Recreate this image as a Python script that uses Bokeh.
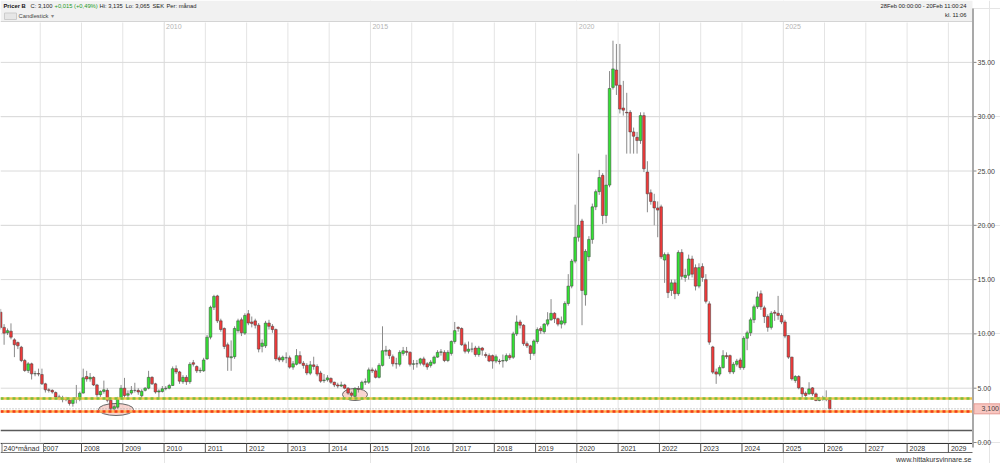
import pandas as pd
from bokeh.plotting import figure
from bokeh.models import Range1d, ColumnDataSource
from bokeh.embed import file_html
from bokeh.resources import INLINE
from bokeh.core.properties import value

# ---------------- data (monthly OHLC, Jan 2006 - Feb 2026, SEK) ----------------
first_month = "2006-01"
opens = [
    12.0, 10.6, 10.1, 10.25, 9.45, 9.2, 8.78, 7.55, 6.63, 7.24, 6.32, 6.35,      # 2006
    6.26, 5.4, 4.85, 4.8, 4.6, 4.2, 4.1, 3.95, 3.9, 3.6, 4.0, 4.0,               # 2007
    4.55, 6.08, 5.85, 6.0, 5.3, 4.4, 4.7, 4.8, 3.9, 3.1, 3.25, 4.1,              # 2008
    5.0, 4.35, 4.55, 4.8, 4.8, 4.3, 4.8, 5.0, 6.0, 5.4, 4.65, 4.7,               # 2009
    4.95, 5.0, 5.25, 6.8, 6.5, 5.6, 6.0, 5.6, 7.35, 7.0, 6.6, 6.6,               # 2010
    7.7, 9.7, 12.45, 13.5, 11.2, 10.5, 9.0, 7.8, 7.9, 10.3, 11.3, 10.07,         # 2011
    11.85, 11.1, 11.2, 10.8, 8.85, 8.9, 11.0, 10.7, 10.4, 7.8, 7.6, 7.8,         # 2012
    7.8, 6.94, 7.2, 8.0, 7.3, 7.1, 6.38, 7.15, 7.0, 6.4, 5.7, 5.77,              # 2013
    5.9, 5.55, 5.3, 5.2, 5.3, 5.0, 4.55, 4.25, 4.95, 4.94, 5.55, 5.55,           # 2014
    6.69, 6.6, 6.0, 7.1, 8.4, 8.48, 7.9, 7.25, 7.2, 8.2, 8.4, 8.3,               # 2015
    7.2, 7.25, 7.3, 7.7, 7.25, 7.1, 7.3, 7.86, 8.3, 8.3, 7.55, 8.2,              # 2016
    9.3, 10.6, 10.5, 9.0, 8.4, 8.6, 8.7, 8.1, 8.7, 8.1, 8.0, 8.0,                # 2017
    7.5, 7.5, 7.5, 7.55, 8.0, 7.85, 10.0, 11.1, 10.8, 9.1, 8.9, 8.2,             # 2018
    9.3, 10.5, 10.2, 10.9, 11.3, 11.9, 11.4, 10.9, 11.0, 12.8, 14.4, 16.7,       # 2019
    18.9, 20.4, 13.6, 17.1, 18.7, 21.7, 23.1, 24.6, 20.9, 23.7, 32.7, 34.3,      # 2020
    32.9, 30.8, 30.4, 30.4, 28.6, 28.1, 27.8, 30.1, 24.9, 23.0, 22.2, 21.6,      # 2021
    21.7, 16.8, 17.3, 14.0, 14.7, 13.7, 17.5, 15.2, 15.4, 16.9, 16.1, 14.4,      # 2022
    16.2, 15.0, 12.77, 8.8, 6.5, 6.3, 6.9, 8.0, 8.0, 6.5, 7.2, 7.6,              # 2023
    6.9, 9.6, 10.1, 11.3, 12.5, 13.7, 12.4, 11.6, 10.6, 12.0, 11.9, 11.7,        # 2024
    11.1, 9.85, 7.86, 5.71, 6.08, 5.03, 4.54, 4.48, 5.03, 4.48, 3.87, 4.1,       # 2025
    4.05, 3.95,                                                                  # 2026
]
highs = [
    12.3, 10.9, 10.5, 10.97, 9.6, 9.3, 8.9, 7.7, 7.4, 7.35, 6.6, 6.8,
    6.8, 5.5, 5.0, 4.9, 4.7, 4.4, 4.3, 4.2, 4.0, 4.1, 5.3, 4.7,
    6.8, 6.6, 6.4, 6.1, 5.4, 4.8, 5.7, 5.0, 4.0, 3.5, 4.2, 5.3,
    5.95, 4.8, 5.2, 5.5, 5.0, 4.9, 5.1, 6.6, 6.1, 5.5, 4.9, 5.2,
    5.2, 5.4, 7.0, 7.1, 6.6, 6.2, 6.2, 7.4, 7.6, 7.1, 6.9, 7.8,
    9.9, 12.6, 13.6, 13.6, 11.4, 10.6, 9.2, 9.4, 10.7, 11.4, 11.5, 11.9,
    12.2, 11.6, 11.4, 11.0, 9.5, 11.2, 11.3, 10.9, 10.5, 8.0, 8.0, 8.3,
    8.0, 7.5, 8.6, 8.4, 7.5, 7.3, 7.5, 7.9, 7.2, 6.6, 6.3, 6.2,
    6.0, 5.6, 5.5, 5.6, 5.4, 5.1, 4.7, 5.1, 5.2, 5.7, 5.9, 6.9,
    6.9, 6.8, 7.3, 10.7, 8.9, 8.6, 8.1, 7.8, 8.5, 8.8, 8.8, 8.4,
    7.6, 7.6, 7.8, 7.9, 7.4, 7.6, 8.0, 8.5, 8.6, 8.5, 8.5, 9.4,
    11.1, 10.7, 10.6, 9.2, 9.3, 9.2, 8.9, 8.9, 8.8, 8.3, 8.2, 8.1,
    8.1, 7.7, 8.1, 8.2, 8.2, 10.2, 11.7, 11.3, 10.9, 9.3, 9.0, 9.5,
    10.6, 10.7, 11.0, 12.0, 13.2, 12.0, 11.5, 11.6, 13.0, 15.5, 16.9, 21.9,
    26.6, 20.6, 17.8, 19.0, 22.0, 23.3, 25.1, 24.8, 26.5, 34.2, 37.0, 36.7,
    36.7, 33.3, 32.2, 30.6, 29.0, 28.6, 30.4, 30.4, 25.9, 23.3, 22.9, 22.2,
    21.9, 17.5, 17.5, 15.0, 15.0, 17.7, 17.8, 16.0, 17.3, 17.2, 16.4, 16.5,
    16.5, 15.5, 13.0, 8.9, 6.8, 7.1, 8.5, 8.3, 8.1, 7.4, 7.7, 7.8,
    9.8, 10.3, 11.5, 12.7, 13.9, 14.0, 12.6, 11.8, 12.1, 12.2, 13.5, 11.9,
    11.3, 9.9, 7.9, 6.2, 6.2, 5.1, 4.7, 5.55, 5.1, 4.6, 4.2, 4.3,
    4.8, 4.0,
]
lows = [
    10.4, 9.0, 9.9, 9.5, 7.86, 8.6, 7.4, 6.5, 6.4, 5.8, 6.1, 6.1,
    5.3, 4.6, 4.6, 4.5, 4.1, 3.9, 3.7, 3.8, 3.4, 3.3, 3.6, 3.8,
    4.5, 5.6, 5.6, 5.2, 4.2, 4.2, 4.5, 3.7, 2.9, 2.9, 3.1, 4.0,
    4.1, 4.2, 4.4, 4.6, 4.4, 4.0, 4.7, 4.9, 5.3, 4.5, 4.0, 4.6,
    4.8, 4.9, 5.2, 6.3, 5.4, 5.4, 5.3, 5.4, 7.0, 6.4, 6.4, 6.5,
    7.6, 9.5, 12.2, 11.0, 10.2, 8.6, 6.6, 6.6, 7.7, 10.1, 9.8, 9.9,
    10.8, 10.6, 10.5, 8.3, 8.3, 8.7, 10.4, 10.1, 7.5, 7.4, 7.4, 7.3,
    6.8, 6.7, 7.1, 7.2, 6.8, 6.2, 6.2, 6.7, 6.1, 5.5, 5.5, 5.6,
    5.4, 5.1, 5.0, 5.1, 4.9, 4.4, 4.1, 4.0, 4.6, 4.8, 5.3, 5.4,
    6.4, 5.9, 5.9, 7.0, 8.0, 7.7, 7.0, 6.8, 7.0, 8.0, 8.0, 7.0,
    6.7, 6.9, 7.1, 7.0, 6.7, 6.9, 7.2, 7.8, 8.0, 7.4, 7.4, 8.0,
    9.1, 10.2, 8.9, 8.2, 8.2, 8.3, 7.9, 7.9, 8.0, 7.8, 7.4, 6.8,
    7.3, 7.2, 6.9, 7.4, 7.6, 7.7, 9.8, 10.5, 8.9, 8.7, 7.6, 8.0,
    9.1, 10.0, 10.0, 10.7, 11.2, 11.0, 10.7, 10.5, 10.8, 12.6, 14.2, 16.5,
    18.5, 10.8, 12.6, 16.7, 18.3, 21.4, 22.8, 20.1, 20.2, 23.5, 32.5, 32.0,
    30.3, 30.1, 26.6, 26.6, 26.6, 26.6, 27.5, 24.9, 21.2, 21.9, 20.0, 18.9,
    16.9, 14.7, 13.3, 13.5, 13.2, 13.5, 15.0, 14.8, 15.0, 15.2, 14.0, 14.2,
    14.8, 12.8, 9.0, 6.3, 5.4, 6.1, 6.8, 7.7, 6.3, 6.3, 7.0, 6.7,
    6.7, 8.5, 9.8, 11.0, 12.3, 12.2, 11.0, 10.2, 10.4, 11.2, 11.3, 10.9,
    9.6, 7.7, 5.7, 5.5, 4.9, 4.1, 4.2, 4.4, 4.3, 3.8, 3.8, 3.85,
    3.8, 3.05,
]
closes = [
    10.6, 10.07, 10.3, 9.7, 9.0, 8.9, 7.55, 6.63, 7.24, 6.32, 6.35, 6.3,
    5.4, 4.85, 4.8, 4.65, 4.2, 4.15, 3.95, 4.05, 3.6, 4.0, 4.1, 4.54,
    5.96, 5.85, 6.0, 5.3, 4.4, 4.7, 4.85, 3.9, 3.1, 3.3, 4.0, 5.0,
    4.33, 4.5, 4.8, 4.8, 4.65, 4.72, 5.0, 6.0, 5.4, 4.65, 4.75, 4.95,
    5.0, 5.25, 6.8, 6.5, 5.65, 6.0, 5.6, 7.2, 7.2, 6.6, 6.65, 7.6,
    9.7, 12.45, 13.45, 11.2, 10.4, 8.84, 7.86, 7.9, 10.5, 11.2, 10.1, 11.7,
    11.0, 10.95, 10.8, 8.6, 9.15, 11.0, 10.7, 10.4, 7.7, 7.6, 7.85, 7.8,
    6.94, 7.25, 8.0, 7.3, 7.1, 6.4, 7.15, 7.0, 6.3, 5.65, 5.75, 5.95,
    5.55, 5.3, 5.2, 5.3, 5.0, 4.55, 4.35, 4.95, 4.9, 5.55, 5.6, 6.69,
    6.6, 6.0, 7.1, 8.45, 8.5, 8.0, 7.25, 7.25, 8.3, 8.45, 8.3, 7.2,
    7.25, 7.25, 7.7, 7.2, 6.95, 7.4, 7.86, 8.3, 8.35, 7.55, 8.3, 9.3,
    10.3, 10.5, 9.0, 8.4, 8.6, 8.6, 8.1, 8.7, 8.5, 8.0, 7.5, 7.5,
    7.9, 7.45, 7.55, 8.0, 7.8, 10.0, 11.1, 10.8, 9.1, 8.9, 8.2, 9.35,
    10.4, 10.3, 10.9, 11.3, 11.9, 11.4, 10.9, 11.2, 12.8, 14.4, 16.7, 18.9,
    20.0, 14.0, 17.6, 18.7, 21.7, 23.1, 24.4, 20.9, 23.7, 32.6, 34.4, 32.9,
    30.7, 30.6, 30.35, 28.6, 28.2, 27.8, 30.1, 25.2, 22.9, 22.2, 21.6, 21.4,
    17.1, 17.3, 13.8, 14.7, 13.7, 17.5, 15.3, 15.4, 16.9, 15.5, 14.4, 16.1,
    15.2, 13.0, 9.24, 6.48, 6.3, 6.9, 8.0, 7.9, 6.5, 7.2, 7.5, 6.9,
    9.6, 10.1, 11.3, 12.5, 13.4, 12.5, 11.6, 10.6, 11.9, 11.9, 11.7, 11.1,
    9.8, 7.86, 5.86, 6.08, 5.03, 4.48, 4.33, 4.94, 4.48, 3.87, 4.1, 4.0,
    3.95, 3.10,
]
price_axis_ticks = [0, 5, 10, 15, 20, 25, 30, 35]
axis_years = list(range(2007, 2030))
top_years = [2010, 2015, 2020, 2025]
support_level = 4.05
lower_level = 2.85
last_price = 3.10
base_line_level = 1.1

# ---------------- geometry helpers (pixel -> data) ----------------
FW, FH = 1000, 463
PPY = 41.28          # pixels per year
PPV = 10.86          # pixels per SEK
X0 = 2008 - 81 / PPY
X1 = X0 + FW / PPY
Y1 = 442 / PPV
Y0 = Y1 - FH / PPV
XR = X0 + 972 / PPY  # right edge of the price pane


def px(x):
    return X0 + x / PPY


def py(y):
    return Y1 - y / PPV


FONT = value("Liberation Sans")

months = pd.period_range(first_month, periods=len(closes), freq="M")
t = [m.year + (m.month - 0.5) / 12 for m in months]
up = [c >= o for o, c in zip(opens, closes)]
src = ColumnDataSource(dict(
    t=t, o=opens, h=highs, l=lows, c=closes,
    top=[max(o, c) for o, c in zip(opens, closes)],
    bot=[min(o, c) for o, c in zip(opens, closes)],
    fill=["#34e234" if u else "#f03a3a" for u in up],
))

p = figure(frame_width=FW, frame_height=FH, x_range=Range1d(X0, X1), y_range=Range1d(Y0, Y1),
           x_axis_location=None, y_axis_location=None, output_backend="svg", toolbar_location=None,
           min_border_left=0, min_border_top=0, min_border_bottom=0, min_border_right=0)
p.outline_line_color = None
p.background_fill_color = "white"
p.border_fill_color = "white"

# header strip
p.quad(left=[X0], right=[XR], top=[py(0)], bottom=[py(21)], fill_color="#f1f1f1", line_color=None)
p.segment(x0=[X0], x1=[XR], y0=[py(21)], y1=[py(21)], line_color="#d4d4d4", line_width=1)

# grid
p.segment(x0=axis_years, x1=axis_years, y0=[py(22)] * len(axis_years), y1=[0] * len(axis_years),
          line_color="#e4e4e4", line_width=1)
hl = price_axis_ticks[1:]
p.segment(x0=[X0] * len(hl), x1=[XR] * len(hl), y0=hl, y1=hl, line_color="#dadada", line_width=1)
p.text(x=[y + 2 / PPY for y in top_years], y=[py(26)] * len(top_years), text=[str(y) for y in top_years],
       text_font=FONT, text_font_size="7px", text_color="#b4b4b4", text_baseline="middle")

# dark horizontal line
p.segment(x0=[X0], x1=[XR], y0=[base_line_level], y1=[base_line_level], line_color="#5a5a5a", line_width=1.5)

# ellipses marking the lows
p.ellipse(x=[2008.836, 2014.625], y=[3.04, 4.42], width=[0.848, 0.606], height=[1.105, 1.105],
          fill_color="#f4b9b0", fill_alpha=0.6, line_color="#666666", line_width=1)

# candles
p.segment(x0="t", x1="t", y0="l", y1="h", source=src, line_color="#8a8a8a", line_width=1)
p.vbar(x="t", top="top", bottom="bot", width=0.064, source=src, fill_color="fill",
       line_color="#3c3c3c", line_width=0.5)

# levels
p.segment(x0=[X0], x1=[XR], y0=[last_price], y1=[last_price], line_color="#a0a0a0", line_width=1, line_dash="1 2")
p.segment(x0=[X0], x1=[XR], y0=[support_level], y1=[support_level], line_color="#f0c34a", line_width=2.5)
p.segment(x0=[X0], x1=[XR], y0=[support_level], y1=[support_level], line_color="#78c040", line_width=2.5,
          line_dash="3 3")
p.segment(x0=[X0], x1=[XR], y0=[lower_level], y1=[lower_level], line_color="#ffb04a", line_width=2.5)
p.segment(x0=[X0], x1=[XR], y0=[lower_level], y1=[lower_level], line_color="#f23a1e", line_width=2.5,
          line_dash="3 3")

# bottom time band
p.quad(left=[X0], right=[XR], top=[0], bottom=[py(452)], fill_color="white", line_color=None)
p.segment(x0=[X0], x1=[XR], y0=[py(443)], y1=[py(443)], line_color="#333333", line_width=1.2)
p.segment(x0=[X0], x1=[XR], y0=[py(452)], y1=[py(452)], line_color="#666666", line_width=1)
p.segment(x0=axis_years, x1=axis_years, y0=[py(443)] * len(axis_years), y1=[py(452)] * len(axis_years),
          line_color="#555555", line_width=1)
p.text(x=[y + 2.5 / PPY for y in axis_years], y=[py(447.8)] * len(axis_years), text=[str(y) for y in axis_years],
       text_font=FONT, text_font_size="7px", text_color="#333333", text_baseline="middle")
p.quad(left=[px(1.5)], right=[px(43)], top=[py(443)], bottom=[py(452)], fill_color="white", line_color="#777777")
p.text(x=[px(3)], y=[py(447.8)], text=["240*månad"], text_font=FONT, text_font_size="7px",
       text_color="#333333", text_baseline="middle")

# right price scale
p.segment(x0=[px(972.5)], x1=[px(972.5)], y0=[py(8)], y1=[py(447)], line_color="#a9a9a9", line_width=2)
p.segment(x0=[px(973)] * len(price_axis_ticks), x1=[px(976)] * len(price_axis_ticks),
          y0=price_axis_ticks, y1=price_axis_ticks, line_color="#888888", line_width=1)
p.text(x=[px(977)] * len(price_axis_ticks), y=price_axis_ticks, text=["%.2f" % v for v in price_axis_ticks],
       text_font=FONT, text_font_size="7px", text_color="#444444", text_baseline="middle")
p.quad(left=[px(973.5)], right=[px(999.5)], top=[last_price + 5 / PPV], bottom=[last_price - 5 / PPV],
       fill_color="#f8c6c0", line_color="#e59a92", line_width=1)
p.text(x=[px(981)], y=[last_price], text=["3,100"], text_font=FONT, text_font_size="7px",
       text_color="#444444", text_baseline="middle")

# footer
p.text(x=[px(971)], y=[py(459)], text=["www.hittakursvinnare.se"], text_font=FONT, text_font_size="7px",
       text_color="#333333", text_baseline="middle", text_align="right")

# header texts
hx = [3, 30, 54, 99, 125, 152, 166]
htxt = ["Pricer B", "C: 3,100", "+0,015 (+0,49%)", "Hi: 3,135", "Lo: 3,065", "SEK", "Per: månad"]
hcol = ["#111111", "#222222", "#1f9a1f", "#222222", "#222222", "#222222", "#222222"]
hsty = ["bold", "normal", "normal", "normal", "normal", "normal", "normal"]
p.text(x=[px(v) for v in hx], y=[py(5.5)] * len(hx), text=htxt, text_color=hcol, text_font_style=hsty,
       text_font=FONT, text_font_size="5.8px", text_baseline="middle")
p.quad(left=[px(4)], right=[px(16)], top=[py(12.5)], bottom=[py(19)], fill_color="#e6e6e6", line_color="#cccccc")
p.text(x=[px(18), px(50)], y=[py(15.5)] * 2, text=["Candlestick", "▾"], text_font=FONT, text_font_size="5.8px",
       text_color=["#444444", "#888888"], text_baseline="middle")
p.text(x=[px(966), px(966)], y=[py(5.5), py(14.5)], text=["28Feb 00:00:00 - 20Feb 11:00:24", "kl. 11:06"],
       text_font=FONT, text_font_size="5.8px", text_color="#222222", text_baseline="middle", text_align="right")

open("out.html", "w").write(file_html(p, INLINE))
